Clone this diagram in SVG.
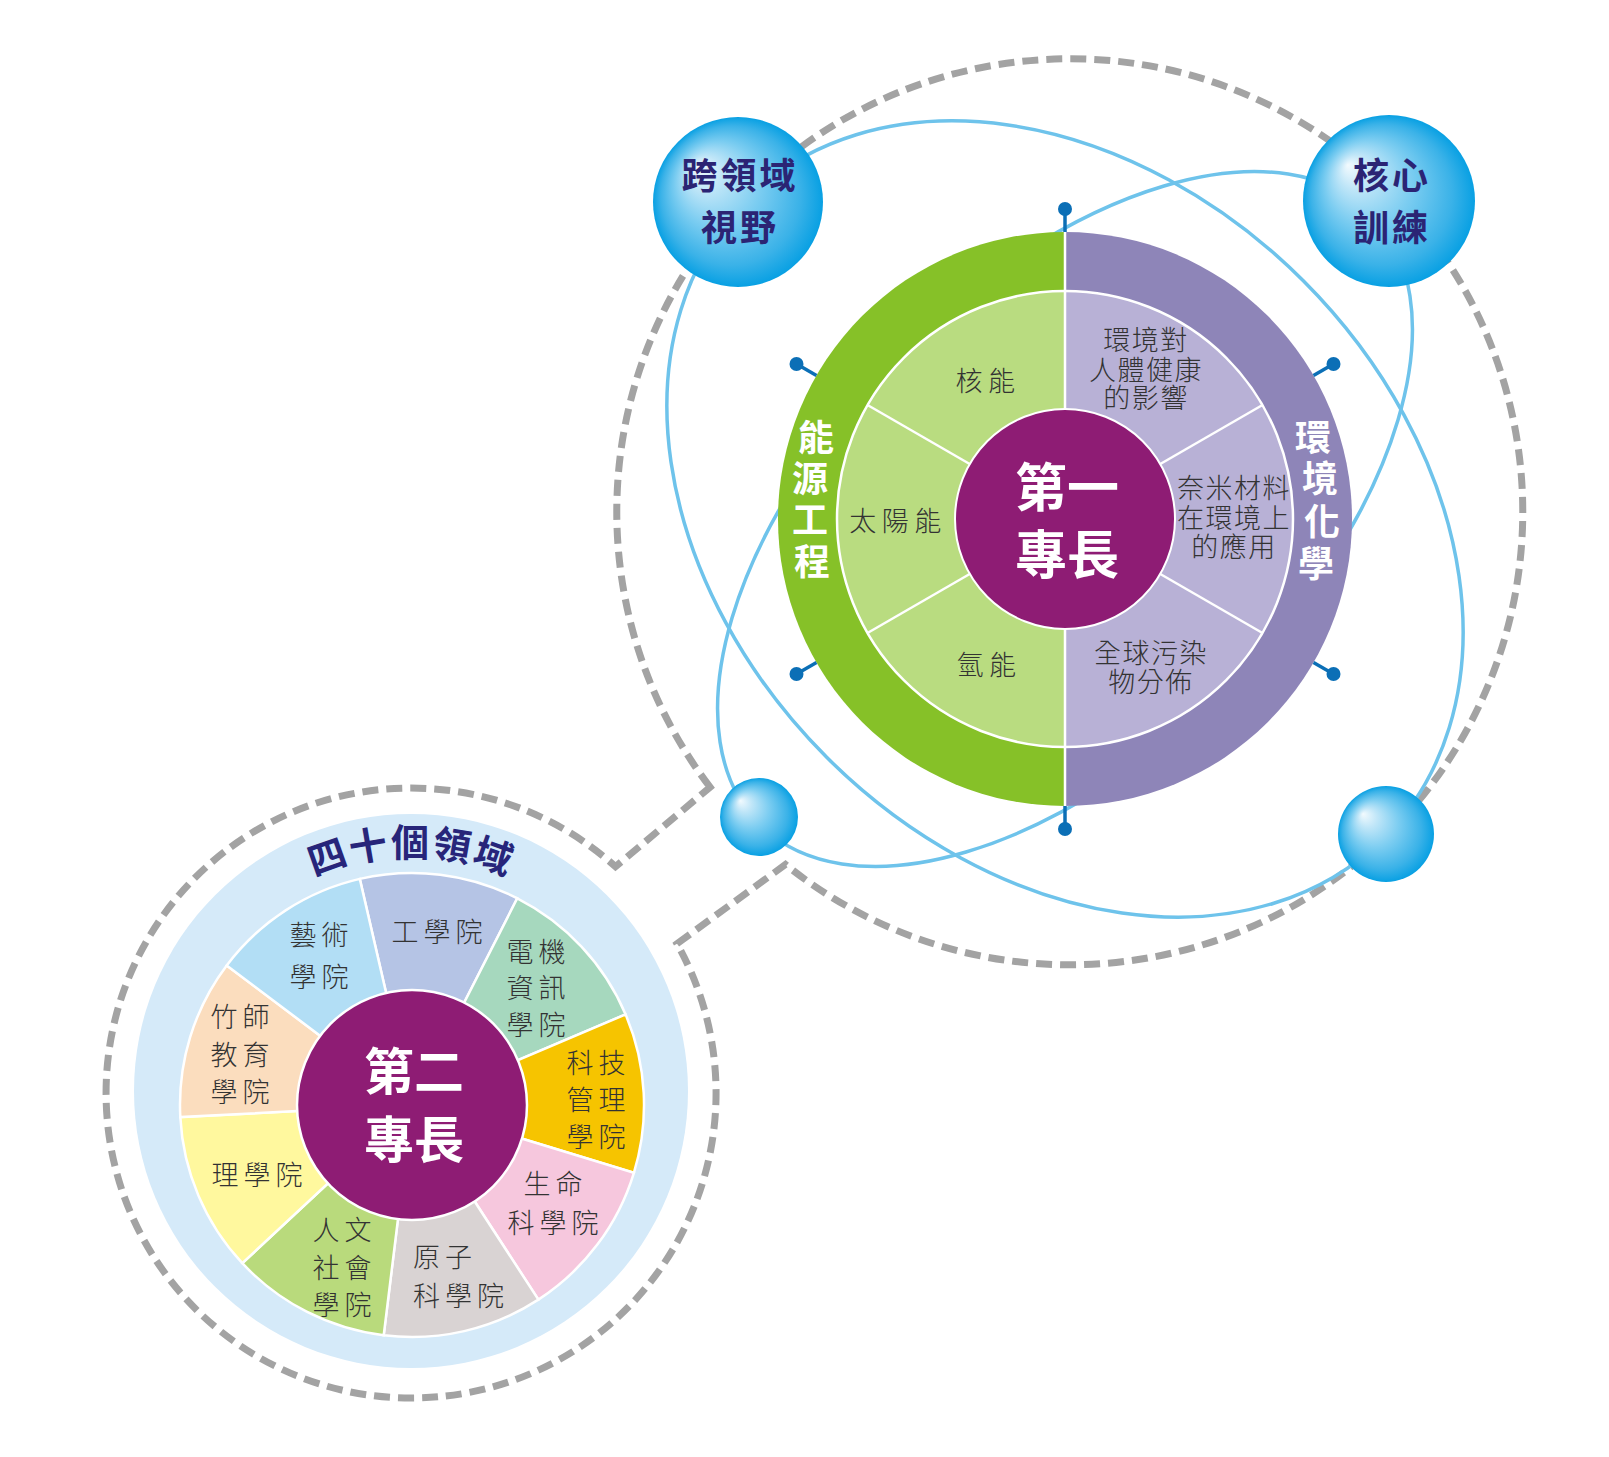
<svg xmlns="http://www.w3.org/2000/svg" width="1609" height="1457" viewBox="0 0 1609 1457">
<defs>
<style>
text{font-family:'Liberation Sans','Noto Sans CJK TC','Noto Sans CJK SC',sans-serif;}
.inner{font-size:27px;fill:#333;text-anchor:middle;letter-spacing:1.5px;font-weight:300;}
.innerw{font-size:27px;fill:#333;text-anchor:middle;letter-spacing:5.5px;font-weight:300;}
.low{font-size:27px;fill:#333;text-anchor:middle;letter-spacing:5px;font-weight:300;}
.ring{font-size:36px;fill:#fff;font-weight:bold;text-anchor:middle;}
.ctr{font-size:52px;fill:#fff;font-weight:bold;text-anchor:middle;}
.sph{font-size:36px;fill:#2b2474;font-weight:bold;text-anchor:middle;letter-spacing:3px;}
.orbit{fill:none;stroke:#6ec3eb;stroke-width:3.5;}
.div{stroke:#fff;stroke-width:2.5;}
.seg{stroke:#fff;stroke-width:2.5;}
.pin line{stroke:#0b6fb6;stroke-width:3.5;}
.pin circle{fill:#0b6fb6;}
</style>
<radialGradient id="sg" cx="0.5" cy="0.5" r="0.5" fx="0.26" fy="0.29">
<stop offset="0" stop-color="#f2fafe"/>
<stop offset="0.2" stop-color="#c0e6f8"/>
<stop offset="0.5" stop-color="#7ccdf1"/>
<stop offset="0.82" stop-color="#3ab2e8"/>
<stop offset="1" stop-color="#08a0e3"/>
</radialGradient>
<path id="arcText" d="M 190.2 1010.6 A 235 235 0 0 1 631.8 1010.6"/>
</defs>
<rect width="1609" height="1457" fill="#fff"/>

<g id="connectors">
<path id="dashed-outline" d="M 710.1 787.2 A 453 453 0 1 1 785.5 864.5 L 677 943.7 A 305 305 0 1 1 615.5 866.7 Z" fill="none" stroke="#a3a3a3" stroke-width="7" stroke-dasharray="16 8"/>
<ellipse id="orbit2" class="orbit" cx="1065" cy="519" rx="432" ry="234" transform="rotate(-45 1065 519)"/>
</g>

<g id="first-specialty">
<path d="M 1065 232 A 287 287 0 0 0 1065 806 Z" fill="#86c128"/>
<path d="M 1065 232 A 287 287 0 0 1 1065 806 Z" fill="#8e85b8"/>
<path d="M 1065 291 A 228 228 0 0 0 1065 747 Z" fill="#b9dc80"/>
<path d="M 1065 291 A 228 228 0 0 1 1065 747 Z" fill="#b8b1d6"/>
<circle cx="1065" cy="519" r="228" fill="none" stroke="#fff" stroke-width="2.5"/>
<line class="div" x1="1065" y1="232" x2="1065" y2="806"/>
<line class="div" x1="1160.3" y1="464" x2="1262.5" y2="405"/>
<line class="div" x1="1160.3" y1="574" x2="1262.5" y2="633"/>
<line class="div" x1="969.7" y1="574" x2="867.5" y2="633"/>
<line class="div" x1="969.7" y1="464" x2="867.5" y2="405"/>
<circle cx="1065" cy="519" r="110" fill="#8e1c74" stroke="#fff" stroke-width="2"/>
<text class="ctr" x="1067" y="507">第一</text>
<text class="ctr" x="1067" y="574">專長</text>
<text class="ring" x="816" y="451">能</text>
<text class="ring" x="810" y="492">源</text>
<text class="ring" x="810" y="533">工</text>
<text class="ring" x="812" y="575">程</text>
<text class="ring" x="1313" y="451">環</text>
<text class="ring" x="1320" y="492">境</text>
<text class="ring" x="1322" y="535">化</text>
<text class="ring" x="1316" y="577">學</text>
<text class="innerw" x="988" y="391">核能</text>
<text class="innerw" x="898" y="531">太陽能</text>
<text class="innerw" x="989" y="675">氫能</text>
<text class="inner" x="1146" y="350">環境對</text>
<text class="inner" x="1146" y="380">人體健康</text>
<text class="inner" x="1146" y="408">的影響</text>
<text class="inner" x="1234" y="498">奈米材料</text>
<text class="inner" x="1234" y="528">在環境上</text>
<text class="inner" x="1234" y="557">的應用</text>
<text class="inner" x="1151" y="663">全球污染</text>
<text class="inner" x="1151" y="692">物分佈</text>
</g>

<g id="orbit1-group">
<ellipse id="orbit1" class="orbit" cx="1065" cy="519" rx="451" ry="337" transform="rotate(45 1065 519)"/>
</g>

<g id="pins" class="pin">
<line x1="1065" y1="232" x2="1065" y2="212"/><circle cx="1065" cy="209" r="7"/>
<line x1="1065" y1="806" x2="1065" y2="826"/><circle cx="1065" cy="829" r="7"/>
<line x1="1313.5" y1="375.5" x2="1329.1" y2="366.5"/><circle cx="1333.5" cy="364" r="7"/>
<line x1="1313.5" y1="662.5" x2="1329.1" y2="671.5"/><circle cx="1333.5" cy="674" r="7"/>
<line x1="816.5" y1="375.5" x2="800.9" y2="366.5"/><circle cx="796.5" cy="364" r="7"/>
<line x1="816.5" y1="662.5" x2="800.9" y2="671.5"/><circle cx="796.5" cy="674" r="7"/>
</g>

<g id="sphere-cross-domain">
<circle cx="738" cy="202" r="85" fill="url(#sg)"/>
<text class="sph" x="740" y="189">跨領域</text>
<text class="sph" x="740" y="241">視野</text>
</g>
<g id="sphere-core-training">
<circle cx="1389" cy="201" r="86" fill="url(#sg)"/>
<text class="sph" x="1392" y="189">核心</text>
<text class="sph" x="1392" y="241">訓練</text>
</g>
<g id="sphere-bl"><circle cx="759" cy="817" r="39" fill="url(#sg)"/></g>
<g id="sphere-br"><circle cx="1386" cy="834" r="48" fill="url(#sg)"/></g>

<g id="second-specialty">
<circle cx="411" cy="1091" r="277" fill="#d5eaf9"/>
<text style="font-size:38px;fill:#27257a;font-weight:bold;letter-spacing:2px;"><textPath href="#arcText" startOffset="50%" text-anchor="middle">四十個領域</textPath></text>
<path class="seg" d="M 412 1105 L 359.8 878.9 A 232 232 0 0 1 517.3 898.3 Z" fill="#b5c4e5"/>
<path class="seg" d="M 412 1105 L 517.3 898.3 A 232 232 0 0 1 625.6 1014.4 Z" fill="#a6d8be"/>
<path class="seg" d="M 412 1105 L 625.6 1014.4 A 232 232 0 0 1 633.9 1172.8 Z" fill="#f6c400"/>
<path class="seg" d="M 412 1105 L 633.9 1172.8 A 232 232 0 0 1 538.4 1299.6 Z" fill="#f6c7dd"/>
<path class="seg" d="M 412 1105 L 538.4 1299.6 A 232 232 0 0 1 383.7 1335.3 Z" fill="#d9d3d3"/>
<path class="seg" d="M 412 1105 L 383.7 1335.3 A 232 232 0 0 1 242.3 1263.2 Z" fill="#b9da7c"/>
<path class="seg" d="M 412 1105 L 242.3 1263.2 A 232 232 0 0 1 180.3 1117.1 Z" fill="#fff89e"/>
<path class="seg" d="M 412 1105 L 180.3 1117.1 A 232 232 0 0 1 226.7 965.4 Z" fill="#fbddbe"/>
<path class="seg" d="M 412 1105 L 226.7 965.4 A 232 232 0 0 1 359.8 878.9 Z" fill="#b2def5"/>
<circle cx="412" cy="1105" r="115" fill="#8e1c74" stroke="#fff" stroke-width="2.5"/>
<text class="ctr" style="font-size:50px" x="414" y="1090">第二</text>
<text class="ctr" style="font-size:50px" x="414" y="1158">專長</text>
<text class="low" x="321.5" y="945">藝術</text>
<text class="low" x="321.5" y="987">學院</text>
<text class="low" x="439.5" y="942">工學院</text>
<text class="low" x="538.5" y="962">電機</text>
<text class="low" x="538.5" y="998">資訊</text>
<text class="low" x="538.5" y="1035">學院</text>
<text class="low" x="598.5" y="1073">科技</text>
<text class="low" x="598.5" y="1110">管理</text>
<text class="low" x="598.5" y="1147">學院</text>
<text class="low" x="555.5" y="1194">生命</text>
<text class="low" x="555.5" y="1233">科學院</text>
<text class="low" style="text-anchor:start" x="413" y="1267">原子</text>
<text class="low" style="text-anchor:start" x="413" y="1306">科學院</text>
<text class="low" x="344.5" y="1240">人文</text>
<text class="low" x="344.5" y="1278">社會</text>
<text class="low" x="344.5" y="1315">學院</text>
<text class="low" x="259.5" y="1185">理學院</text>
<text class="low" x="242.5" y="1027">竹師</text>
<text class="low" x="242.5" y="1065">教育</text>
<text class="low" x="242.5" y="1102">學院</text>
</g>
</svg>
